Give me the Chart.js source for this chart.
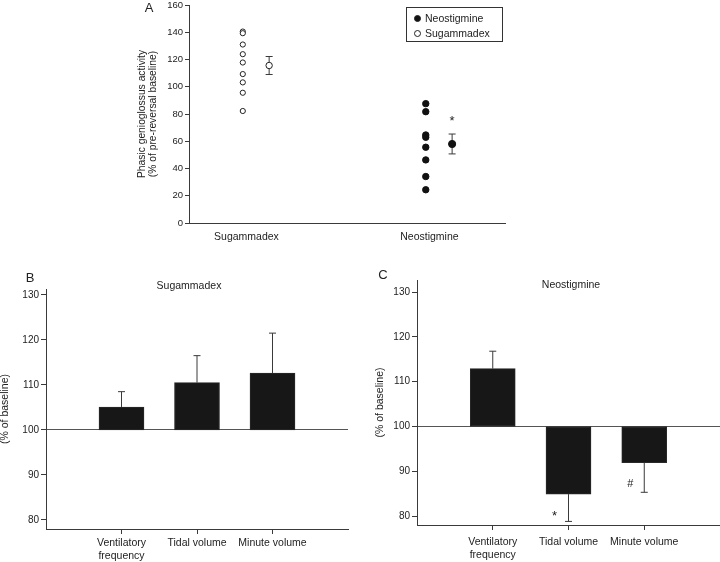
<!DOCTYPE html>
<html>
<head>
<meta charset="utf-8">
<script src="https://cdn.jsdelivr.net/npm/chart.js@4.4.1/dist/chart.umd.min.js"></script>
<style>
  body { margin: 0; background: #fff; }
  #page { position: relative; width: 720px; height: 562px; overflow: hidden;
          font-family: 'Liberation Sans', Arial, sans-serif; color: #222; }
  canvas { position: absolute; }
  .txt { position: absolute; transform: translate(-50%, -50%); white-space: nowrap; font-size: 10.5px; }
  .letter { font-size: 13px; }
  #legendA { position: absolute; left: 406px; top: 7px; width: 95px; height: 33px;
             border: 1px solid #333; font-size: 10.5px; }
  #legendA div { position: absolute; left: 18px; }
  #legendA span { position: absolute; left: -11px; top: 3px; width: 5px; height: 5px; border-radius: 50%;
                  border: 1px solid #222; }
</style>
</head>
<body>
<div id="page">
  <canvas id="chartA" width="390" height="250" style="left:130px;top:0px"></canvas>
  <canvas id="chartB" width="360" height="282" style="left:0px;top:280px"></canvas>
  <canvas id="chartC" width="360" height="286" style="left:360px;top:276px"></canvas>

  <div class="txt letter" style="left:149px;top:7px">A</div>
  <div class="txt letter" style="left:30px;top:277px">B</div>
  <div class="txt letter" style="left:383px;top:274px">C</div>
  <div class="txt" style="left:189px;top:285px">Sugammadex</div>
  <div class="txt" style="left:571px;top:284px">Neostigmine</div>

  <div id="legendA">
    <div style="top:4px"><span style="background:#111"></span>Neostigmine</div>
    <div style="top:19px"><span style="background:#fff"></span>Sugammadex</div>
  </div>
</div>

<script>
// panel A: phasic genioglossus activity, individual patients + mean/SEM
const groupsA = ['Sugammadex', 'Neostigmine'];
const sugammadexPoints = [140.5, 139.3, 131, 123.9, 117.8, 109.3, 103.2, 95.6, 82.2];
const neostigminePoints = [87.6, 81.7, 64.6, 62.9, 55.6, 46.3, 34.1, 24.4];
const meanA = [115.6, 58.0];
const semA = [6.6, 7.3];
const sigA = ['', '*'];
const ticksA = [0, 20, 40, 60, 80, 100, 120, 140, 160];

// panels B and C: ventilation, % of baseline
const measures = [['Ventilatory', 'frequency'], 'Tidal volume', 'Minute volume'];
const sugammadexBars = [105.1, 110.5, 112.6];
const sugammadexErr = [3.4, 6.0, 8.9];
const sigB = ['', '', ''];
const neostigmineBars = [112.9, 84.9, 91.9];
const neostigmineErr = [3.9, 6.1, 6.6];
const sigC = ['', '*', '#'];
const ticksBC = [80, 90, 100, 110, 120, 130];
const baseline = 100;

const INK = '#222';
const AXIS = '#3a3a3a';

Chart.defaults.font.family = "'Liberation Sans', Arial, sans-serif";
Chart.defaults.font.size = 10.5;
Chart.defaults.color = INK;
Chart.defaults.animation = false;
Chart.defaults.plugins.legend.display = false;
Chart.defaults.plugins.tooltip.enabled = false;

// fixed axis box so the plot area lands where the figure has it
function fixBox(size) {
    return function (scale) {
        if (scale.isHorizontal()) scale.height = size;
        else scale.width = size;
        scale.paddingLeft = scale.paddingRight = scale.paddingTop = scale.paddingBottom = 0;
    };
}

function setTicks(list) {
    return function (scale) {
        scale.ticks = list.map(v => ({ value: v }));
    };
}

function drawCap(ctx, x, y) {
    ctx.moveTo(x - 3.5, y);
    ctx.lineTo(x + 3.5, y);
}

function drawMark(ctx, text, x, y) {
    ctx.save();
    ctx.fillStyle = INK;
    ctx.font = (text === '*' ? '13px' : '11px') + " 'Liberation Sans', Arial, sans-serif";
    ctx.textAlign = 'center';
    ctx.textBaseline = 'middle';
    ctx.fillText(text, x, text === '*' ? y + 3 : y);
    ctx.restore();
}

// ---------- A ----------
const indivOffset = -0.02;
const meanOffset = 0.124;

const meanErrors = {
    id: 'meanErrors',
    beforeDatasetsDraw(chart) {
        const { ctx, scales: { x, y } } = chart;
        ctx.save();
        ctx.strokeStyle = AXIS;
        ctx.lineWidth = 1;
        ctx.beginPath();
        meanA.forEach((m, i) => {
            const px = x.getPixelForValue(i + 1 + meanOffset);
            const top = y.getPixelForValue(m + semA[i]);
            const bot = y.getPixelForValue(m - semA[i]);
            ctx.moveTo(px, top);
            ctx.lineTo(px, bot);
            drawCap(ctx, px, top);
            drawCap(ctx, px, bot);
        });
        ctx.stroke();
        ctx.restore();
        meanA.forEach((m, i) => {
            if (!sigA[i]) return;
            const px = x.getPixelForValue(i + 1 + meanOffset);
            drawMark(ctx, sigA[i], px, y.getPixelForValue(m + semA[i]) - 16);
        });
    }
};

new Chart(document.getElementById('chartA'), {
    type: 'scatter',
    data: {
        datasets: [
            {
                label: 'Sugammadex',
                data: sugammadexPoints.map(v => ({ x: 1 + indivOffset, y: v })),
                pointRadius: 2.6,
                backgroundColor: '#fff',
                borderColor: INK,
                borderWidth: 1,
            },
            {
                label: 'Neostigmine',
                data: neostigminePoints.map(v => ({ x: 2 + indivOffset, y: v })),
                pointRadius: 3.2,
                backgroundColor: '#111',
                borderColor: '#111',
                borderWidth: 1,
            },
            {
                label: 'Sugammadex mean',
                data: [{ x: 1 + meanOffset, y: meanA[0] }],
                pointRadius: 3.2,
                backgroundColor: '#fff',
                borderColor: INK,
                borderWidth: 1,
            },
            {
                label: 'Neostigmine mean',
                data: [{ x: 2 + meanOffset, y: meanA[1] }],
                pointRadius: 3.6,
                backgroundColor: '#111',
                borderColor: '#111',
                borderWidth: 1,
            },
        ],
    },
    options: {
        responsive: false,
        layout: { padding: { top: 4.5, right: 15, left: 0, bottom: 0 } },
        scales: {
            x: {
                type: 'linear',
                min: 0.686,
                max: 2.413,
                afterBuildTicks: setTicks(groupsA.map((g, i) => i + 1)),
                afterFit: fixBox(27),
                grid: { display: false, drawTicks: false },
                border: { display: true, color: AXIS },
                ticks: { padding: 8, maxRotation: 0, callback: v => groupsA[v - 1] },
            },
            y: {
                min: 0,
                max: 160,
                afterBuildTicks: setTicks(ticksA),
                afterFit: fixBox(59),
                grid: { drawOnChartArea: false, tickLength: 4, color: AXIS },
                border: { color: AXIS },
                ticks: { padding: 2, font: { size: 9.5 } },
                title: {
                    display: true,
                    text: ['Phasic genioglossus activity', '(% of pre-reversal baseline)'],
                    padding: { top: 6.5, bottom: 0 },
                    font: { size: 10.3, lineHeight: 1.1 },
                },
            },
        },
    },
    plugins: [meanErrors],
});

// ---------- B and C ----------
const barErrors = {
    id: 'barErrors',
    afterDatasetsDraw(chart, args, opts) {
        const { ctx, scales: { x, y } } = chart;
        ctx.save();
        ctx.strokeStyle = AXIS;
        ctx.lineWidth = 1;
        ctx.beginPath();
        opts.values.forEach((v, i) => {
            const dir = v >= baseline ? 1 : -1;
            const px = x.getPixelForValue(i + 1);
            const end = y.getPixelForValue(v + dir * opts.err[i]);
            ctx.moveTo(px, y.getPixelForValue(v));
            ctx.lineTo(px, end);
            drawCap(ctx, px, end);
        });
        ctx.stroke();
        ctx.restore();
        opts.values.forEach((v, i) => {
            if (!opts.sig[i]) return;
            const px = x.getPixelForValue(i + 1) - 14;
            const end = y.getPixelForValue(v - opts.err[i]);
            drawMark(ctx, opts.sig[i], px, end - 8);
        });
    }
};

function barPanel(id, values, err, sig, opt) {
    return new Chart(document.getElementById(id), {
        type: 'bar',
        data: {
            datasets: [{
                data: values.map((v, i) => ({ x: i + 1, y: [baseline, v] })),
                backgroundColor: '#171717',
                borderColor: '#2a2a2a',
                borderWidth: 1,
                borderSkipped: false,
                barThickness: 45,
            }],
        },
        options: {
            responsive: false,
            layout: { padding: opt.padding },
            scales: {
                x: {
                    type: 'linear',
                    offset: false,
                    min: 0,
                    max: 4,
                    afterBuildTicks: setTicks(measures.map((m, i) => i + 1)),
                    afterFit: fixBox(opt.xHeight),
                    grid: { offset: false, drawOnChartArea: false, tickLength: 5, color: AXIS },
                    border: { color: AXIS },
                    ticks: { padding: opt.labelPad, maxRotation: 0, callback: v => measures[v - 1] },
                },
                y: {
                    min: opt.yMin,
                    max: opt.yMax,
                    afterBuildTicks: setTicks(ticksBC),
                    afterFit: fixBox(opt.yWidth),
                    grid: {
                        tickLength: 5,
                        color: ctx => (ctx.tick && ctx.tick.value === baseline ? '#555' : 'rgba(0,0,0,0)'),
                        tickColor: AXIS,
                    },
                    border: { color: AXIS },
                    ticks: { padding: 2, font: { size: 10 } },
                    title: {
                        display: true,
                        text: '(% of baseline)',
                        padding: { top: opt.titlePad, bottom: 0 },
                    },
                },
            },
            plugins: { barErrors: { values, err, sig } },
        },
        plugins: [barErrors],
    });
}

barPanel('chartB', sugammadexBars, sugammadexErr, sigB, {
    padding: { top: 9, right: 12, left: 0, bottom: 0 },
    xHeight: 33, yWidth: 46, labelPad: 3, titlePad: -1,
    yMin: 78, yMax: 131.3,
});

barPanel('chartC', neostigmineBars, neostigmineErr, sigC, {
    padding: { top: 4, right: 0, left: 0, bottom: 0 },
    xHeight: 37, yWidth: 57, labelPad: 6, titlePad: 14,
    yMin: 78, yMax: 132.7,
});
</script>
</body>
</html>
